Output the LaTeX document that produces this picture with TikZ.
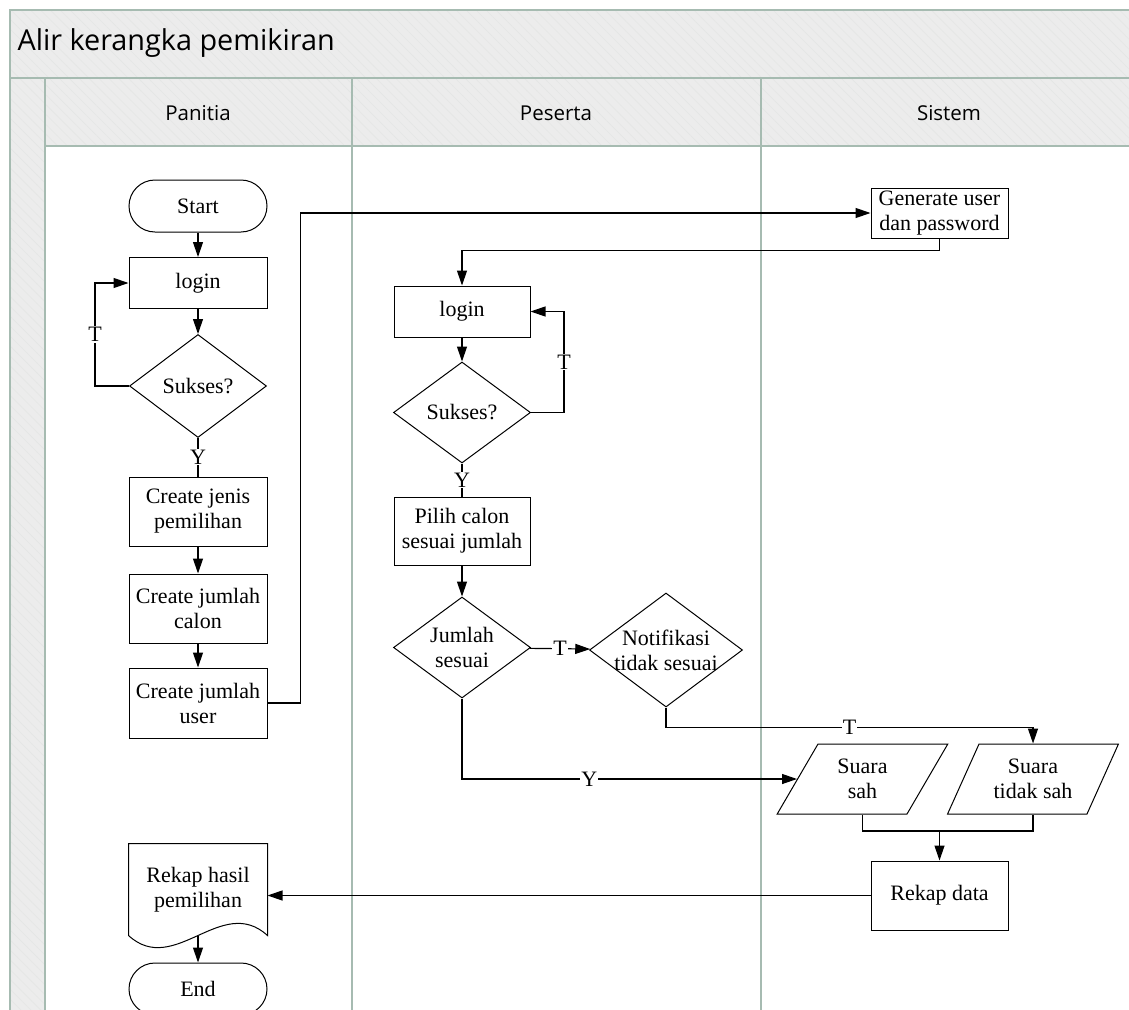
\documentclass[tikz,border=0pt]{standalone}
\usepackage{fontspec}
\setmainfont{Liberation Serif}
\newfontfamily\lanefont{Open Sans}
\usetikzlibrary{positioning,shapes.geometric,arrows.meta,patterns.meta}

\definecolor{laneline}{HTML}{A6BBB1}
\definecolor{lanefill}{HTML}{ECECEC}
\definecolor{lanehatch}{HTML}{E4E6E5}

\begin{document}
\begin{tikzpicture}[x=1pt,y=-1pt,
    box/.style={draw,line width=1pt,minimum width=138pt,inner sep=0pt,align=center,
      font=\fontsize{22}{25}\selectfont},
    term/.style={box,rounded corners=26pt,minimum height=52pt},
    decision/.style={diamond,draw,line width=1pt,inner sep=0pt},
    dtext/.style={align=center,inner sep=0pt,font=\fontsize{22}{25}\selectfont},
    io/.style={box,trapezium,trapezium left angle=60,trapezium right angle=120,
      trapezium stretches=true,minimum width=171pt,minimum height=70pt},
    flow/.style={line width=1.2pt,-{Triangle[length=15pt,width=10pt]}},
    plain/.style={line width=1.2pt},
    yn/.style={fill=white,inner sep=1pt,font=\fontsize{22}{24}\selectfont},
    lanehead/.style={font=\lanefont\fontsize{20.5}{24}\selectfont},
    hatch/.style={pattern={Lines[angle=-45,distance=7pt,line width=0.6pt]},pattern color=lanehatch}]
  \useasboundingbox (0,0) rectangle (1129,1009);

  % swimlane frame
  \fill[lanefill] (10,10) rectangle (1140,78);
  \fill[lanefill] (10,78) rectangle (45,1020);
  \fill[lanefill] (45,78) rectangle (1140,146);
  \fill[hatch] (10,10) rectangle (1140,78);
  \fill[hatch] (10,78) rectangle (45,1020);
  \fill[hatch] (45,78) rectangle (1140,146);
  \draw[laneline,line width=1.4pt] (1140,10) -- (10,10) -- (10,1020);
  \draw[laneline,line width=1.4pt] (10,78) -- (1140,78);
  \draw[laneline,line width=1.4pt] (45,146) -- (1140,146);
  \draw[laneline,line width=1.4pt] (45,78) -- (45,1020);
  \draw[laneline,line width=1.4pt] (352,78) -- (352,1020);
  \draw[laneline,line width=1.4pt] (761,78) -- (761,1020);

  \node[anchor=west,font=\lanefont\fontsize{28.8}{32}\selectfont] (title) at (14,43) {Alir kerangka pemikiran};
  \node[lanehead] (hpanitia) at (198,113) {Panitia};
  \node[lanehead] (hpeserta) at (556,113) {Peserta};
  \node[lanehead] (hsistem)  at (949,113) {Sistem};

  % Panitia
  \node[term] (start) at (198,206) {Start};
  \node[box,minimum height=51pt] (login1) at (198,283) {login};
  \node[decision,minimum width=137pt,minimum height=103pt,
    label={[dtext]center:Sukses?}] (suk1) at (198,386) {};
  \node[box,minimum height=69pt] (jenis) at (198,511.5) {Create jenis\\pemilihan};
  \node[box,minimum height=69pt] (calon) at (198,608.5) {Create jumlah\\calon};
  \node[box,minimum height=70pt] (user)  at (198,703) {Create jumlah\\user};
  \node[box,draw=none,minimum height=91pt] (hasil) at (198,889.5) {Rekap hasil\\pemilihan};
  \draw[line width=1pt] (hasil.south west) -- (hasil.north west) -- (hasil.north east)
    -- (hasil.south east) .. controls +(-46,-42) and +(46,42) .. (hasil.south west);
  \node[term] (end) at (198,989) {End};

  % Peserta
  \node[box,minimum width=136pt,minimum height=51pt] (login2) at (462,311.5) {login};
  \node[decision,minimum width=137pt,minimum height=101pt,
    label={[dtext]center:Sukses?}] (suk2) at (462,412.5) {};
  \node[box,minimum width=136pt,minimum height=68pt] (pilih) at (462,531) {Pilih calon\\sesuai jumlah};
  \node[decision,minimum width=137pt,minimum height=101pt,
    label={[dtext]center:{Jumlah\\sesuai}}] (jml) at (462,647.5) {};
  \node[decision,minimum width=153pt,minimum height=114pt,
    label={[dtext]center:{Notifikasi\\tidak sesuai}}] (notif) at (666,650) {};

  % Sistem
  \node[box,minimum width=137pt,minimum height=50pt] (gen) at (939.5,213) {Generate user\\dan password};
  \node[io] (sah) at (862.5,779) {Suara\\sah};
  \node[io] (tdksah) at (1033,779) {Suara\\tidak sah};
  \node[box,minimum width=137pt,minimum height=69pt] (rekap) at (939.5,895.5) {Rekap data};
  \coordinate (mrg) at (939.5,831);

  % connectors
  \draw[flow] (start) -- (login1);
  \draw[flow] (login1) -- (suk1);
  \draw[flow] (suk1.west) -- ++(-34,0) |- node[yn,pos=.25]{T} (login1.west);
  \draw[plain] (suk1) -- node[yn]{Y} (jenis);
  \draw[flow] (jenis) -- (calon);
  \draw[flow] (calon) -- (user);
  \draw[flow] (user.east) -- ++(33,0) |- (gen.west);
  \draw[flow] (gen.south) -- ++(0,12) -| (login2.north);
  \draw[flow] (login2) -- (suk2);
  \draw[flow] (suk2.east) -- ++(33,0) |- node[yn,pos=.25]{T} (login2.east);
  \draw[plain] (suk2) -- node[yn]{Y} (pilih);
  \draw[flow] (pilih) -- (jml);
  \draw[flow] (jml) -- node[yn]{T} (notif);
  \draw[flow] (notif.south) -- ++(0,20) -| node[yn,pos=.25]{T} (tdksah.north);
  \draw[flow] (jml.south) |- node[yn,pos=.69]{Y} (sah.west);
  \draw[plain] (sah.south) |- (mrg) -| (tdksah.south);
  \draw[flow] (mrg) -- (rekap);
  \draw[flow] (rekap.west) -- (rekap.west -| hasil.east);
  \draw[flow] (hasil.south) -- (end);
\end{tikzpicture}
\end{document}
